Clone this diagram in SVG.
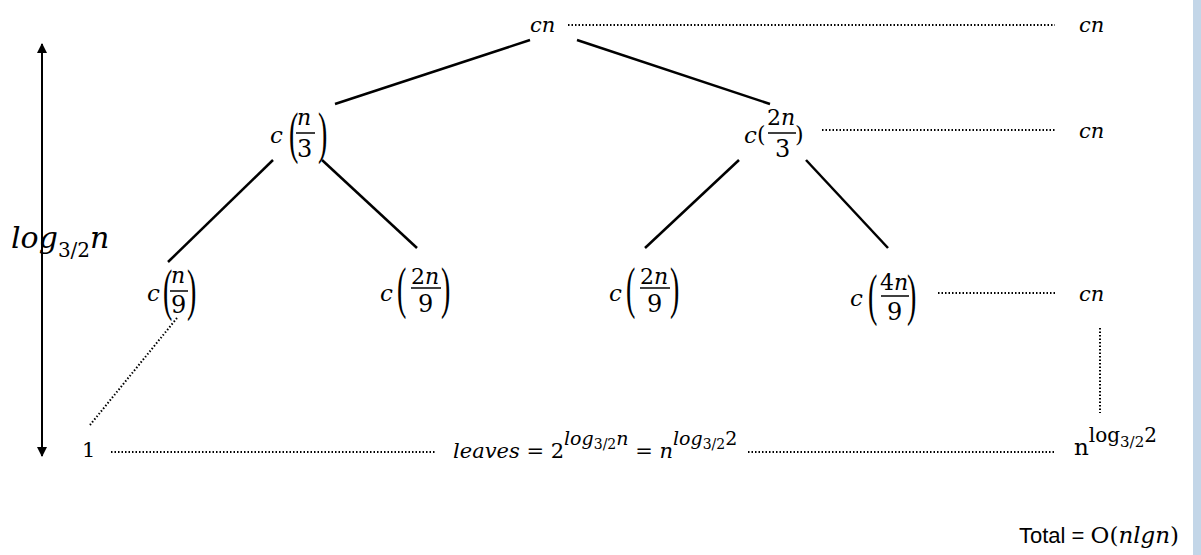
<svg xmlns="http://www.w3.org/2000/svg" width="1201" height="555" viewBox="0 0 1201 555">
<style>
.m{font-family:"DejaVu Serif",serif;font-style:italic;fill:#000}
.u{font-family:"DejaVu Serif",serif;fill:#000}
.p{font-family:"Liberation Serif",serif;fill:#000}
.s{font-family:"Liberation Sans",Arial,sans-serif;fill:#000}
.e{stroke:#000;stroke-width:2.5;fill:none}
.d{stroke:#000;stroke-width:2;stroke-dasharray:1.5 2;fill:none}
.f{stroke:#000;stroke-width:1.5}
</style>
<defs>
<marker id="ah" viewBox="0 0 10 10" refX="9" refY="5" markerWidth="5" markerHeight="5" orient="auto-start-reverse">
<path d="M0,0 L10,5 L0,10 z" fill="#000"/>
</marker>
</defs>
<rect width="1201" height="555" fill="#fff"/>
<rect x="1193" y="0" width="8" height="555" fill="#c3d6e8"/>

<g id="connectors">
<line class="e" x1="530" y1="40" x2="335" y2="104"/>
<line class="e" x1="577" y1="40" x2="770" y2="104"/>
<line class="e" x1="273" y1="160" x2="168" y2="262"/>
<line class="e" x1="322" y1="160" x2="417" y2="248"/>
<line class="e" x1="739" y1="160" x2="645" y2="248"/>
<line class="e" x1="806" y1="160" x2="888" y2="248"/>
<line class="d" x1="177" y1="318" x2="90" y2="425"/>
<line class="d" x1="568" y1="25" x2="1055" y2="25"/>
<line class="d" x1="822" y1="130" x2="1055" y2="130"/>
<line class="d" x1="938" y1="293" x2="1055" y2="293"/>
<line class="d" x1="1100" y1="328" x2="1100" y2="413"/>
<line class="d" x1="111" y1="452" x2="436" y2="452"/>
<line class="d" x1="748" y1="452" x2="1055" y2="452"/>
<line stroke="#000" stroke-width="2" x1="42" y1="44" x2="42" y2="456" marker-start="url(#ah)" marker-end="url(#ah)"/>
</g>

<g id="root"><text class="m" x="530" y="32" font-size="21">cn</text></g>
<g id="sum1"><text class="m" x="1079" y="32" font-size="21">cn</text></g>
<g id="sum2"><text class="m" x="1079" y="138" font-size="21">cn</text></g>
<g id="sum3"><text class="m" x="1079" y="301" font-size="21">cn</text></g>

<g id="n3">
<text class="m" x="270" y="143" font-size="23">c</text>
<text class="p" transform="translate(289,152) scale(0.5,1)" font-size="56">(</text>
<text class="m" x="297" y="125" font-size="22">n</text>
<line class="f" x1="296" y1="133" x2="315" y2="133"/>
<text class="u" x="297" y="157" font-size="24">3</text>
<text class="p" transform="translate(318,152) scale(0.5,1)" font-size="56">)</text>
</g>

<g id="n23">
<text class="m" x="744" y="143" font-size="23">c</text>
<text class="u" x="757" y="142" font-size="22">(</text>
<text class="u" x="767" y="125" font-size="22">2</text>
<text class="m" x="781" y="125" font-size="22">n</text>
<line class="f" x1="768" y1="133" x2="796" y2="133"/>
<text class="u" x="775" y="157" font-size="24">3</text>
<text class="u" x="795" y="142" font-size="22">)</text>
</g>

<g id="n9">
<text class="m" x="147" y="301" font-size="23">c</text>
<text class="p" transform="translate(163,309) scale(0.5,1)" font-size="56">(</text>
<text class="m" x="171" y="283" font-size="22">n</text>
<line class="f" x1="170" y1="291" x2="188" y2="291"/>
<text class="u" x="171" y="313" font-size="24">9</text>
<text class="p" transform="translate(187,309) scale(0.5,1)" font-size="56">)</text>
</g>

<g id="n29a">
<text class="m" x="380" y="301" font-size="23">c</text>
<text class="p" transform="translate(397,307) scale(0.5,1)" font-size="56">(</text>
<text class="u" x="411" y="284" font-size="22">2</text>
<text class="m" x="425" y="284" font-size="22">n</text>
<line class="f" x1="411" y1="288" x2="441" y2="288"/>
<text class="u" x="418" y="312" font-size="24">9</text>
<text class="p" transform="translate(441,307) scale(0.5,1)" font-size="56">)</text>
</g>

<g id="n29b">
<text class="m" x="609" y="301" font-size="23">c</text>
<text class="p" transform="translate(626,307) scale(0.5,1)" font-size="56">(</text>
<text class="u" x="640" y="284" font-size="22">2</text>
<text class="m" x="654" y="284" font-size="22">n</text>
<line class="f" x1="640" y1="288" x2="670" y2="288"/>
<text class="u" x="647" y="312" font-size="24">9</text>
<text class="p" transform="translate(670,307) scale(0.5,1)" font-size="56">)</text>
</g>

<g id="n49">
<text class="m" x="850" y="306" font-size="23">c</text>
<text class="p" transform="translate(868,314) scale(0.5,1)" font-size="56">(</text>
<text class="u" x="880" y="290" font-size="22">4</text>
<text class="m" x="894" y="290" font-size="22">n</text>
<line class="f" x1="881" y1="296" x2="909" y2="296"/>
<text class="u" x="887" y="320" font-size="24">9</text>
<text class="p" transform="translate(907,314) scale(0.5,1)" font-size="56">)</text>
</g>

<g id="height">
<text class="m" x="11" y="248" font-size="30">log<tspan class="u" font-style="normal" font-size="20" dy="9">3/2</tspan><tspan dy="-9">n</tspan></text>
</g>

<g id="leaf"><text class="u" x="82" y="457" font-size="21">1</text></g>

<g id="leaves">
<text class="m" x="453" y="458" font-size="21">leaves<tspan class="u" font-style="normal"> = 2</tspan><tspan font-size="19" dy="-13">log</tspan><tspan class="u" font-style="normal" font-size="14" dy="4">3/2</tspan><tspan font-size="19" dy="-4">n</tspan><tspan class="u" font-style="normal" dy="13"> = </tspan><tspan>n</tspan><tspan font-size="19" dy="-13">log</tspan><tspan class="u" font-style="normal" font-size="14" dy="4">3/2</tspan><tspan class="u" font-style="normal" font-size="19" dy="-4">2</tspan></text>
</g>

<g id="leafsum">
<text class="u" x="1074" y="455" font-size="23">n<tspan font-size="20" dy="-13">log</tspan><tspan font-size="15" dy="5">3/2</tspan><tspan font-size="20" dy="-5">2</tspan></text>
</g>

<g id="total">
<text class="s" x="1019" y="543" font-size="22">Total = <tspan class="u" font-size="23">O(</tspan><tspan class="m" font-size="23">nlgn</tspan><tspan class="u" font-size="23">)</tspan></text>
</g>
</svg>
